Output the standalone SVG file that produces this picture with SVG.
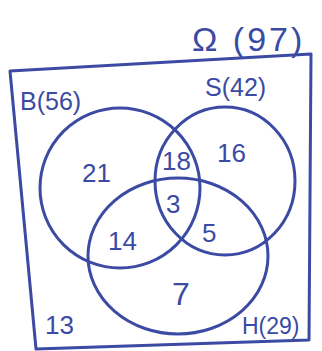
<svg xmlns="http://www.w3.org/2000/svg" width="322" height="351" viewBox="0 0 322 351">
<style>
.ln{fill:none;stroke:#3b4aa3;stroke-width:3;stroke-linecap:round;stroke-linejoin:round}
.t{fill:#3b4aa3;font-family:"Liberation Sans","DejaVu Sans",sans-serif;font-size:26px}
</style>
<rect width="322" height="351" fill="#ffffff"/>
<g id="universe">
<path class="ln" d="M10,71 L311,54 L309,340 L36,349 Z"/>
<text class="t" x="192" y="51" style="font-size:34px;letter-spacing:3px">Ω (97)</text>
<text class="t" x="45" y="334">13</text>
</g>
<g id="connectors"></g>
<g id="B">
<ellipse class="ln" cx="120" cy="188" rx="80" ry="80"/>
<text class="t" x="20" y="110" style="font-size:25px">B(56)</text>
</g>
<g id="S">
<ellipse class="ln" cx="225" cy="181" rx="70" ry="74"/>
<text class="t" x="205" y="96" style="font-size:25px">S(42)</text>
</g>
<g id="H">
<ellipse class="ln" cx="178" cy="256" rx="90" ry="78"/>
<text class="t" x="242" y="334" style="font-size:23px">H(29)</text>
</g>
<g id="regions">
<text class="t" x="82" y="182">21</text>
<text class="t" x="162" y="170">18</text>
<text class="t" x="217" y="162">16</text>
<text class="t" x="166" y="213">3</text>
<text class="t" x="108" y="250">14</text>
<text class="t" x="202" y="242">5</text>
<text class="t" x="172" y="305" style="font-size:32px">7</text>
</g>
</svg>
